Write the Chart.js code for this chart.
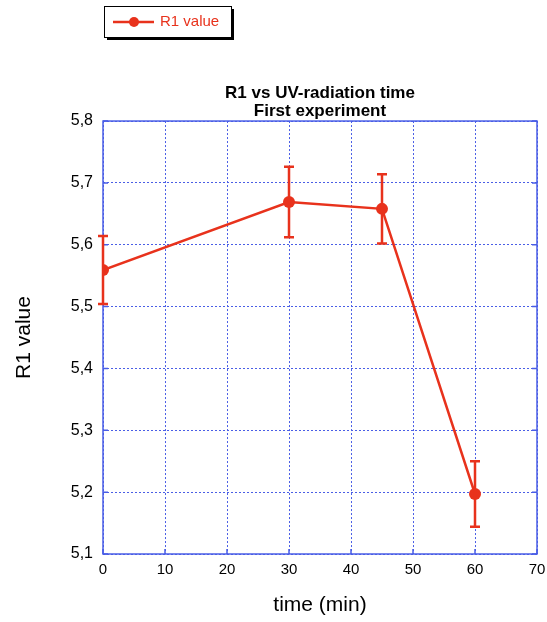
<!DOCTYPE html>
<html>
<head>
<meta charset="utf-8">
<script src="https://cdn.jsdelivr.net/npm/chart.js@4"></script>
<style>
  html, body { margin: 0; padding: 0; background: #fff; }
  #wrap { position: relative; width: 547px; height: 622px; }
</style>
</head>
<body>
<div id="wrap"><canvas id="chart" width="547" height="622"></canvas></div>
<script>
const times = [0, 30, 45, 60];
const r1Values = [5.559, 5.669, 5.658, 5.197];
const r1Errors = [0.055, 0.057, 0.056, 0.053];
const xTicks = [0, 10, 20, 30, 40, 50, 60, 70];
const yTicks = [5.1, 5.2, 5.3, 5.4, 5.5, 5.6, 5.7, 5.8];

const RED = "#e8321c";
const BLUE = "#4a5ee6";
const FONT = "'Liberation Sans', Arial, sans-serif";

// error bars, frame, inner ticks and the boxed legend
const extras = {
  id: "extras",
  afterDatasetsDraw(chart) {
    const { ctx, chartArea: a, scales: { x, y } } = chart;
    ctx.save();

    // frame
    ctx.strokeStyle = BLUE;
    ctx.lineWidth = 1.5;
    ctx.strokeRect(a.left, a.top, a.right - a.left, a.bottom - a.top);

    // inward tick marks
    ctx.beginPath();
    xTicks.forEach(t => {
      const px = x.getPixelForValue(t);
      ctx.moveTo(px, a.bottom); ctx.lineTo(px, a.bottom - 5);
    });
    yTicks.forEach(t => {
      const py = y.getPixelForValue(t);
      ctx.moveTo(a.left, py); ctx.lineTo(a.left + 5, py);
      ctx.moveTo(a.right, py); ctx.lineTo(a.right - 5, py);
    });
    ctx.stroke();

    // error bars
    ctx.strokeStyle = RED;
    ctx.lineWidth = 2.5;
    ctx.beginPath();
    times.forEach((t, i) => {
      const px = x.getPixelForValue(t);
      const top = y.getPixelForValue(r1Values[i] + r1Errors[i]);
      const bot = y.getPixelForValue(r1Values[i] - r1Errors[i]);
      ctx.moveTo(px, top); ctx.lineTo(px, bot);
      ctx.moveTo(px - 5, top); ctx.lineTo(px + 5, top);
      ctx.moveTo(px - 5, bot); ctx.lineTo(px + 5, bot);
    });
    ctx.stroke();

    // legend box with shadow
    const lx = 104, ly = 6, lw = 127, lh = 31;
    ctx.fillStyle = "#000";
    ctx.fillRect(lx + 3, ly + 3, lw, lh);
    ctx.fillStyle = "#fff";
    ctx.fillRect(lx, ly, lw, lh);
    ctx.strokeStyle = "#000";
    ctx.lineWidth = 1;
    ctx.strokeRect(lx + 0.5, ly + 0.5, lw, lh);
    ctx.strokeStyle = RED;
    ctx.lineWidth = 2.5;
    ctx.beginPath();
    ctx.moveTo(lx + 9, ly + 16); ctx.lineTo(lx + 50, ly + 16);
    ctx.stroke();
    ctx.fillStyle = RED;
    ctx.beginPath();
    ctx.arc(lx + 30, ly + 16, 5, 0, Math.PI * 2);
    ctx.fill();
    ctx.font = "15px " + FONT;
    ctx.textBaseline = "middle";
    ctx.fillText(chart.data.datasets[0].label, lx + 56, ly + 16);

    ctx.restore();
  }
};

new Chart(document.getElementById("chart"), {
  type: "scatter",
  data: {
    datasets: [{
      label: "R1 value",
      data: times.map((t, i) => ({ x: t, y: r1Values[i] })),
      showLine: true,
      borderColor: RED,
      backgroundColor: RED,
      borderWidth: 2.5,
      pointRadius: 6,
      pointHoverRadius: 6,
      pointBorderWidth: 0
    }]
  },
  options: {
    responsive: false,
    animation: false,
    layout: { padding: { left: 0, right: 10, top: 0, bottom: 0 } },
    plugins: {
      legend: { display: false },
      tooltip: { enabled: false },
      title: {
        display: true,
        fullSize: false,
        text: ["R1 vs UV-radiation time", "First experiment"],
        color: "#000",
        font: { family: FONT, size: 17, weight: "bold", lineHeight: 1.06 },
        padding: { top: 84, bottom: 1 }
      }
    },
    scales: {
      x: {
        type: "linear",
        min: 0, max: 70,
        afterFit: s => { s.height = 68; s.paddingLeft = 0; s.paddingRight = 0; },
        afterBuildTicks: s => { s.ticks = xTicks.map(v => ({ value: v })); },
        ticks: { color: "#000", padding: 7, font: { family: FONT, size: 15 } },
        grid: { color: BLUE, lineWidth: 1, drawTicks: false },
        border: { display: false, dash: [2, 2] },
        title: {
          display: true, text: "time (min)", color: "#000",
          font: { family: FONT, size: 21 }, padding: { top: 0, bottom: 4 }
        }
      },
      y: {
        min: 5.1, max: 5.8,
        afterFit: s => { s.width = 103; s.paddingTop = 0; s.paddingBottom = 0; },
        afterBuildTicks: s => { s.ticks = yTicks.map(v => ({ value: v })); },
        ticks: {
          color: "#000", padding: 10, font: { family: FONT, size: 16 },
          callback: v => v.toFixed(1).replace(".", ",")
        },
        grid: { color: BLUE, lineWidth: 1, drawTicks: false },
        border: { display: false, dash: [2, 2] },
        title: {
          display: true, text: "R1 value", color: "#000",
          font: { family: FONT, size: 21 }, padding: { top: 12, bottom: 0 }
        }
      }
    }
  },
  plugins: [extras]
});
</script>
</body>
</html>
